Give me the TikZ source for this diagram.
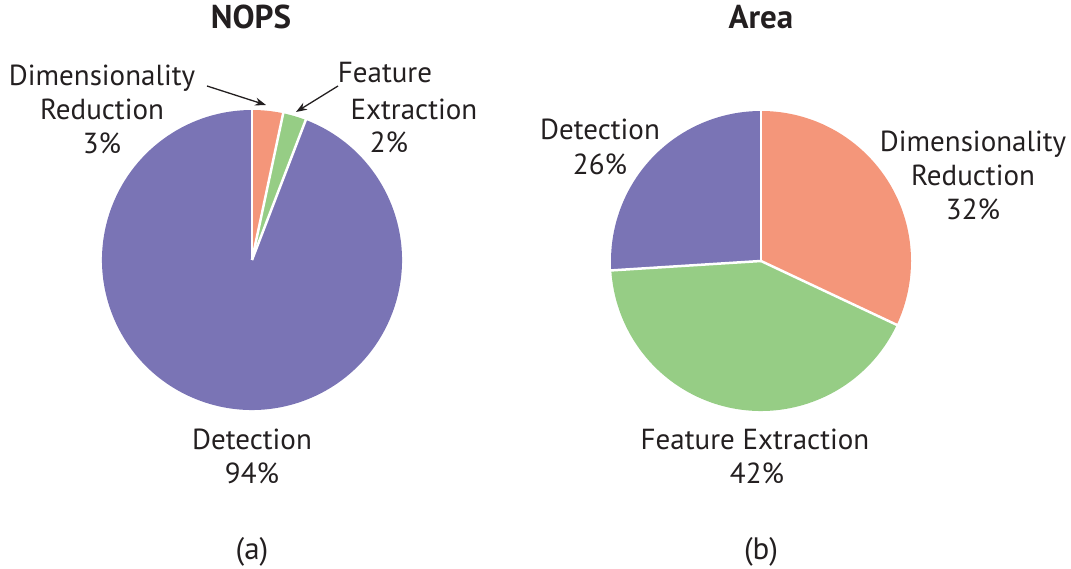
\documentclass[tikz,border=0pt]{standalone}
\usepackage{fontspec}
\setmainfont{PT Sans}
\usetikzlibrary{arrows.meta}
\definecolor{cOrange}{HTML}{F4967A}
\definecolor{cGreen}{HTML}{96CD85}
\definecolor{cPurple}{HTML}{7A74B5}
\definecolor{cText}{HTML}{231F20}
\tikzset{
  lbl/.style={anchor=base, inner sep=0pt, text=cText, font=\fontsize{29}{32}\selectfont},
  captxt/.style={anchor=base, inner sep=0pt, text=cText, font=\fontsize{31}{34}\selectfont},
  ttl/.style={anchor=base, inner sep=0pt, text=cText, font=\fontsize{33}{36}\selectfont\bfseries},
  slice/.style={draw=white, line width=2.5pt, line join=round},
  pointer/.style={draw=cText, line width=1.3pt, -{Stealth[length=11pt,width=8pt]}}
}
\begin{document}
\begin{tikzpicture}[x=1pt,y=1pt]
\useasboundingbox (0,0) rectangle (1071,569);
% ---- pie (a)
\coordinate (ca) at (252,309);
\fill[cPurple] (ca) -- ++(69:150) arc[start angle=69, end angle=-270, radius=150] -- cycle;
\fill[cOrange] (ca) -- ++(90:150) arc[start angle=90, end angle=78, radius=150] -- cycle;
\fill[cGreen] (ca) -- ++(78:150) arc[start angle=78, end angle=69, radius=150] -- cycle;
\draw[slice] (ca) -- ++(90:151);
\draw[slice] (ca) -- ++(78:151);
\draw[slice] (ca) -- ++(69:151);
% ---- pie (b)
\coordinate (cb) at (761,308);
\fill[cOrange] (cb) -- ++(90:150) arc[start angle=90, end angle=-25.2, radius=150] -- cycle;
\fill[cGreen] (cb) -- ++(-25.2:150) arc[start angle=-25.2, end angle=-176.4, radius=150] -- cycle;
\fill[cPurple] (cb) -- ++(-176.4:150) arc[start angle=-176.4, end angle=-270, radius=150] -- cycle;
\draw[slice] (cb) -- ++(90:151);
\draw[slice] (cb) -- ++(-25.2:151);
\draw[slice] (cb) -- ++(-176.4:151);
% ---- titles
\node[ttl] (t1) at (251,540) {NOPS};
\node[ttl] (t2) at (761,540) {Area};
% ---- labels (a)
\node[lbl] (a1) at (102,483) {Dimensionality};
\node[lbl] (a2) at (102,449) {Reduction};
\node[lbl] (a3) at (102,415) {3\%};
\node[lbl] (a4) at (385,486) {Feature};
\node[lbl] (a5) at (414,449) {Extraction};
\node[lbl] (a6) at (389,416) {2\%};
\node[lbl] (a7) at (252,119) {Detection};
\node[lbl] (a8) at (252,85) {94\%};
% ---- labels (b)
\node[lbl] (b1) at (600,429) {Detection};
\node[lbl] (b2) at (600,394) {26\%};
\node[lbl] (b3) at (973,417) {Dimensionality};
\node[lbl] (b4) at (973,383) {Reduction};
\node[lbl] (b5) at (973,349) {32\%};
\node[lbl] (b6) at (755,119) {Feature Extraction};
\node[lbl] (b7) at (757,85) {42\%};
% ---- captions
\node[captxt] (ka) at (252,9) {(a)};
\node[captxt] (kb) at (761,9) {(b)};
% ---- pointers
\coordinate (p1s) at (207,483);
\coordinate (p1e) at (266,464);
\coordinate (p2s) at (338,483);
\coordinate (p2e) at (296,457);
\draw[pointer] (p1s) -- (p1e);
\draw[pointer] (p2s) -- (p2e);
\end{tikzpicture}
\end{document}
